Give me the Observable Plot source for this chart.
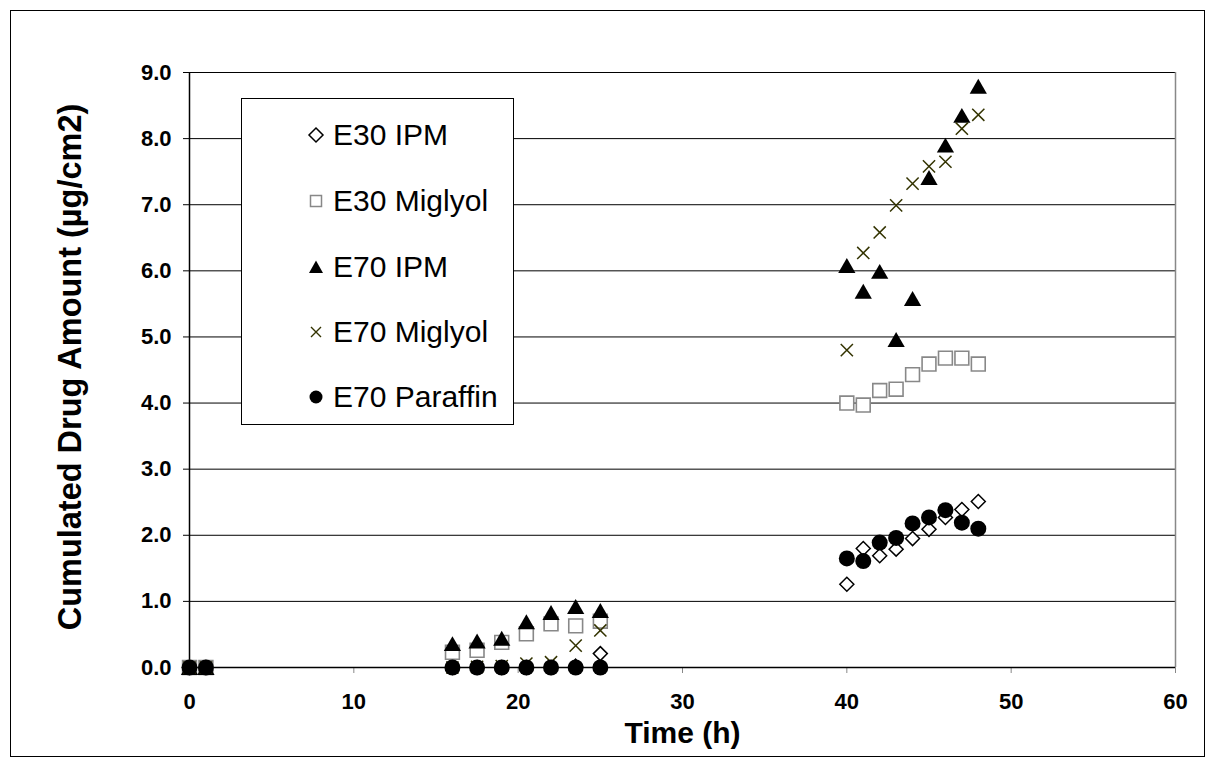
<!DOCTYPE html>
<html>
<head>
<meta charset="utf-8">
<script src="https://cdn.jsdelivr.net/npm/d3@7"></script>
<script src="https://cdn.jsdelivr.net/npm/@observablehq/plot@0.6"></script>
<style>
  html, body { margin: 0; padding: 0; background: #fff; }
  #wrap { position: relative; width: 1215px; height: 767px; overflow: hidden; font-family: "Liberation Sans", Arial, sans-serif; }
  #wrap svg.plot { position: absolute; left: 0; top: 0; }
  #border { position: absolute; left: 10px; top: 10px; width: 1195px; height: 747px; box-sizing: border-box; border: 1.5px solid #000; pointer-events: none; }
  #legend { position: absolute; left: 241px; top: 98px; width: 273px; height: 327px; box-sizing: border-box; border: 1px solid #000; background: #fff; }
  .row { position: absolute; left: 0; height: 32px; display: flex; align-items: center; font-size: 30px; color: #000; white-space: nowrap; }
  .row svg { width: 22px; height: 22px; margin-left: 63px; margin-right: 6px; }
</style>
</head>
<body>
<div id="wrap"><div id="border"></div></div>
<script>
// ---- data ----
const time = [0, 1, 16, 17.5, 19, 20.5, 22, 23.5, 25, 40, 41, 42, 43, 44, 45, 46, 47, 48];
const e30IPM      = [0, 0, 0, 0, 0, 0, 0, 0.02, 0.21, 1.26, 1.80, 1.69, 1.79, 1.95, 2.09, 2.27, 2.39, 2.51];
const e30Miglyol  = [0, 0, 0.23, 0.26, 0.38, 0.51, 0.66, 0.63, 0.70, 4.00, 3.97, 4.19, 4.21, 4.43, 4.59, 4.68, 4.68, 4.59];
const e70IPM      = [0, 0, 0.36, 0.40, 0.44, 0.69, 0.83, 0.92, 0.86, 6.08, 5.69, 5.99, 4.96, 5.58, 7.41, 7.90, 8.35, 8.79];
const e70Miglyol  = [0, 0, 0.00, 0.01, 0.02, 0.06, 0.08, 0.33, 0.56, 4.80, 6.27, 6.58, 6.99, 7.32, 7.58, 7.65, 8.15, 8.36];
const e70Paraffin = [0, 0, 0, 0, 0, 0, 0, 0, 0, 1.65, 1.61, 1.89, 1.96, 2.18, 2.27, 2.38, 2.19, 2.10];
const seriesNames = ["E30 IPM", "E30 Miglyol", "E70 IPM", "E70 Miglyol", "E70 Paraffin"];
const xTicks = [0, 10, 20, 30, 40, 50, 60];
const yTicks = [0, 1, 2, 3, 4, 5, 6, 7, 8, 9];
const xTitle = "Time (h)";
const yTitle = "Cumulated Drug Amount (µg/cm2)";

const rows = vals => time.map((t, i) => ({t, v: vals[i]}));

const chart = Plot.plot({
  width: 1215,
  height: 767,
  marginLeft: 189,
  marginRight: 40,
  marginTop: 72,
  marginBottom: 100,
  x: {domain: [0, 60]},
  y: {domain: [0, 9]},
  style: {fontFamily: "'Liberation Sans', Arial, sans-serif", fontSize: "22px", fontWeight: "bold", color: "#000", background: "transparent", overflow: "visible"},
  marks: [
    Plot.gridY(yTicks.filter(d => d > 0), {stroke: "#000", strokeOpacity: 1, strokeWidth: 1}),
    Plot.ruleX([60], {stroke: "#888", strokeWidth: 1.5}),
    Plot.axisX(xTicks, {tickSize: 6, tickPadding: 20, stroke: "#888", tickFormat: d => String(d), label: null, fontSize: 22, fontWeight: "bold"}),
    Plot.axisY(yTicks, {tickSize: 6, tickPadding: 12, stroke: "#000", tickFormat: d3.format(".1f"), label: null, fontSize: 22, fontWeight: "bold"}),
    Plot.ruleY([0], {stroke: "#000", strokeWidth: 1.5}),
    Plot.ruleX([0], {stroke: "#000", strokeWidth: 1.5}),
    Plot.text([xTitle], {text: d => d, frameAnchor: "bottom", textAnchor: "middle", dy: 75, fontSize: 30, fontWeight: "bold"}),
    Plot.text([yTitle], {text: d => d, frameAnchor: "left", textAnchor: "middle", rotate: -90, dx: -119, dy: -3, fontSize: 32.5, fontWeight: "bold"}),
    Plot.dot(rows(e30IPM), {x: "t", y: "v", symbol: "diamond2", r: 6.3, stroke: "#000", strokeWidth: 1.5, fill: "#fff"}),
    Plot.dot(rows(e30Miglyol), {x: "t", y: "v", symbol: "square2", r: 8.8, stroke: "#888", strokeWidth: 1.6, fill: "#fff"}),
    Plot.dot(rows(e70IPM), {x: "t", y: "v", symbol: "triangle", r: 6.4, fill: "#000", stroke: "none", dy: 2.4}),
    Plot.dot(rows(e70Miglyol), {x: "t", y: "v", symbol: "times", r: 5.6, stroke: "#333300", strokeWidth: 1.5}),
    Plot.dot(rows(e70Paraffin), {x: "t", y: "v", symbol: "circle", r: 8, fill: "#000", stroke: "none"})
  ]
});
chart.classList.add("plot");
const wrap = document.getElementById("wrap");
wrap.insertBefore(chart, wrap.firstChild);

// ---- legend ----
const legendSymbols = [
  '<path d="M11 4 L18 11 L11 18 L4 11 Z" fill="#fff" stroke="#000" stroke-width="1.5"/>',
  '<rect x="5.5" y="5.5" width="11" height="11" fill="#fff" stroke="#888" stroke-width="1.5"/>',
  '<path d="M11 4.5 L18 17 L4 17 Z" fill="#000"/>',
  '<path d="M6 6 L16 16 M6 16 L16 6" stroke="#333300" stroke-width="1.4"/>',
  '<circle cx="11" cy="11" r="6.5" fill="#000"/>'
];
const legendCenters = [36, 102, 168, 233, 298];
const legend = document.createElement("div");
legend.id = "legend";
seriesNames.forEach((name, i) => {
  const row = document.createElement("div");
  row.className = "row";
  row.style.top = (legendCenters[i] - 16) + "px";
  row.innerHTML = '<svg viewBox="0 0 22 22">' + legendSymbols[i] + '</svg><span>' + name + '</span>';
  legend.appendChild(row);
});
wrap.appendChild(legend);
</script>
</body>
</html>
